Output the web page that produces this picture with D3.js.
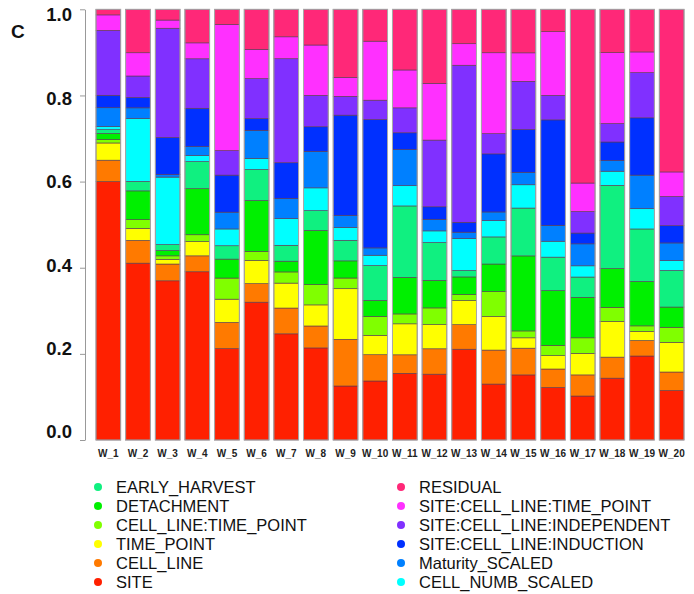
<!DOCTYPE html>
<html><head><meta charset="utf-8">
<script src="https://cdn.jsdelivr.net/npm/d3@7/dist/d3.min.js"></script>
<style>body{margin:0;background:#fff;}svg{display:block;}</style>
</head><body>
<svg id="chart" width="694" height="594"></svg>
<script>
const samples = ["W_1","W_2","W_3","W_4","W_5","W_6","W_7","W_8","W_9","W_10","W_11","W_12","W_13","W_14","W_15","W_16","W_17","W_18","W_19","W_20"];
const components = ["SITE","CELL_LINE","TIME_POINT","CELL_LINE:TIME_POINT","DETACHMENT","EARLY_HARVEST","CELL_NUMB_SCALED","Maturity_SCALED","SITE:CELL_LINE:INDUCTION","SITE:CELL_LINE:INDEPENDENT","SITE:CELL_LINE:TIME_POINT","RESIDUAL"];
const colors = ["#FF2000","#FF7A00","#FFFF00","#80FF00","#00F000","#10F080","#00FFFF","#0080FF","#0030FF","#8030FF","#FF30FF","#FF2878"];

const SITE = [0.601,0.411,0.370,0.391,0.212,0.320,0.247,0.214,0.126,0.137,0.155,0.153,0.211,0.130,0.151,0.122,0.102,0.144,0.195,0.115];
const CELL_LINE = [0.050,0.053,0.039,0.037,0.061,0.043,0.060,0.051,0.109,0.061,0.043,0.059,0.057,0.079,0.062,0.043,0.049,0.049,0.036,0.043];
const TIME_POINT = [0.040,0.028,0.011,0.033,0.054,0.054,0.058,0.049,0.118,0.045,0.072,0.056,0.056,0.078,0.024,0.031,0.050,0.083,0.021,0.069];
const CELL_LINE_TIME_POINT = [0.008,0.020,0.008,0.016,0.049,0.021,0.026,0.047,0.025,0.044,0.023,0.039,0.014,0.058,0.016,0.024,0.036,0.033,0.013,0.035];
const DETACHMENT = [0.014,0.067,0.012,0.107,0.044,0.118,0.025,0.126,0.040,0.037,0.085,0.064,0.041,0.064,0.174,0.127,0.094,0.090,0.103,0.047];
const EARLY_HARVEST = [0.009,0.022,0.014,0.063,0.031,0.072,0.037,0.046,0.048,0.081,0.166,0.088,0.015,0.063,0.111,0.078,0.047,0.194,0.122,0.085];
const CELL_NUMB_SCALED = [0.007,0.146,0.157,0.014,0.039,0.026,0.062,0.053,0.030,0.024,0.047,0.027,0.074,0.038,0.054,0.037,0.026,0.033,0.047,0.023];
const Maturity_SCALED = [0.044,0.025,0.006,0.021,0.039,0.065,0.047,0.085,0.028,0.017,0.084,0.027,0.015,0.020,0.029,0.037,0.051,0.025,0.078,0.041];
const SITE_CELL_LINE_INDUCTION = [0.029,0.024,0.086,0.089,0.086,0.027,0.083,0.057,0.234,0.298,0.039,0.029,0.023,0.135,0.099,0.245,0.025,0.043,0.133,0.040];
const SITE_CELL_LINE_INDEPENDENT = [0.151,0.050,0.254,0.115,0.057,0.093,0.242,0.073,0.044,0.045,0.058,0.155,0.365,0.047,0.112,0.057,0.050,0.043,0.105,0.068];
const SITE_CELL_LINE_TIME_POINT = [0.036,0.054,0.019,0.037,0.293,0.068,0.051,0.117,0.044,0.137,0.088,0.132,0.050,0.188,0.066,0.148,0.066,0.165,0.048,0.057];
const RESIDUAL = [0.013,0.101,0.025,0.078,0.035,0.093,0.064,0.083,0.159,0.074,0.141,0.172,0.080,0.101,0.101,0.052,0.403,0.101,0.099,0.378];
const yTicks = [0.0,0.2,0.4,0.6,0.8,1.0];

const series = [SITE,CELL_LINE,TIME_POINT,CELL_LINE_TIME_POINT,DETACHMENT,EARLY_HARVEST,CELL_NUMB_SCALED,Maturity_SCALED,SITE_CELL_LINE_INDUCTION,SITE_CELL_LINE_INDEPENDENT,SITE_CELL_LINE_TIME_POINT,RESIDUAL];

const rows = samples.map((s,i)=>{
  const r = {sample:s};
  components.forEach((c,j)=>{ r[c] = series[j][i]; });
  return r;
});

const FONT = "Liberation Sans, Arial, sans-serif";
const svg = d3.select("#chart");
const x = d3.scaleBand().domain(samples).range([96,684]).paddingInner(1/6).paddingOuter(0);
const y = d3.scaleLinear().domain([0,1]).range([440,9.3]);
const yLabel = d3.scaleLinear().domain([0,1]).range([432,15]);
const color = d3.scaleOrdinal().domain(components).range(colors);

const stack = d3.stack().keys(components).offset(d3.stackOffsetExpand);
const layers = stack(rows);

const g = svg.append("g");
g.selectAll("g.layer").data(layers).join("g")
  .attr("class","layer")
  .attr("fill", d=>color(d.key))
  .selectAll("rect").data(d=>d).join("rect")
  .attr("x", d=>x(d.data.sample))
  .attr("width", x.bandwidth())
  .attr("y", d=>y(d[1]))
  .attr("height", d=>y(d[0])-y(d[1]))
  .attr("stroke","#5a3a50")
  .attr("stroke-width",0.6);

g.selectAll("rect.outline").data(samples).join("rect")
  .attr("class","outline")
  .attr("x", d=>x(d)).attr("width", x.bandwidth())
  .attr("y", y(1)).attr("height", y(0)-y(1))
  .attr("fill","none").attr("stroke","#aaa").attr("stroke-width",1);

// y axis
const yAxis = d3.axisLeft(y).tickValues(yTicks).tickFormat(d3.format(".1f")).tickSize(5).tickSizeOuter(0).tickPadding(8);
const ya = svg.append("g").attr("transform","translate(85,0)").call(yAxis);
ya.select(".domain").attr("stroke","#999");
ya.selectAll(".tick line").attr("stroke","#999");
ya.selectAll(".tick text").attr("font-family",FONT)
  .attr("font-size","18.5px").attr("font-weight","bold").attr("fill","#111")
  .attr("transform", d=>`translate(0,${yLabel(d)-y(d)})`);

// x labels
const xAxis = d3.axisBottom(x).tickSize(0).tickPadding(10);
const xa = svg.append("g").attr("transform","translate(0,440)").call(xAxis);
xa.select(".domain").remove();
xa.selectAll(".tick text").attr("font-family",FONT)
  .attr("font-size","10px").attr("font-weight","bold").attr("fill","#222");

// panel letter
svg.append("text").attr("x",11).attr("y",38).text("C")
  .attr("font-family",FONT).attr("font-size","19px").attr("font-weight","bold").attr("fill","#111");

// legend
const revComp = components.slice().reverse();
const legendItems = revComp.map((c,i)=>({name:c, col: i<6 ? 1 : 0, row: i<6 ? i : i-6}));
const colX = [98, 401];
const lg = svg.append("g");
const li = lg.selectAll("g").data(legendItems).join("g")
  .attr("transform", d=>`translate(${colX[d.col]},${487 + d.row*19})`);
li.append("circle").attr("r",4).attr("fill", d=>color(d.name));
li.append("text").attr("x",18).attr("dy","0.35em").text(d=>d.name)
  .attr("font-family",FONT).attr("font-size","16.5px").attr("fill","#111");
</script>
</body></html>
